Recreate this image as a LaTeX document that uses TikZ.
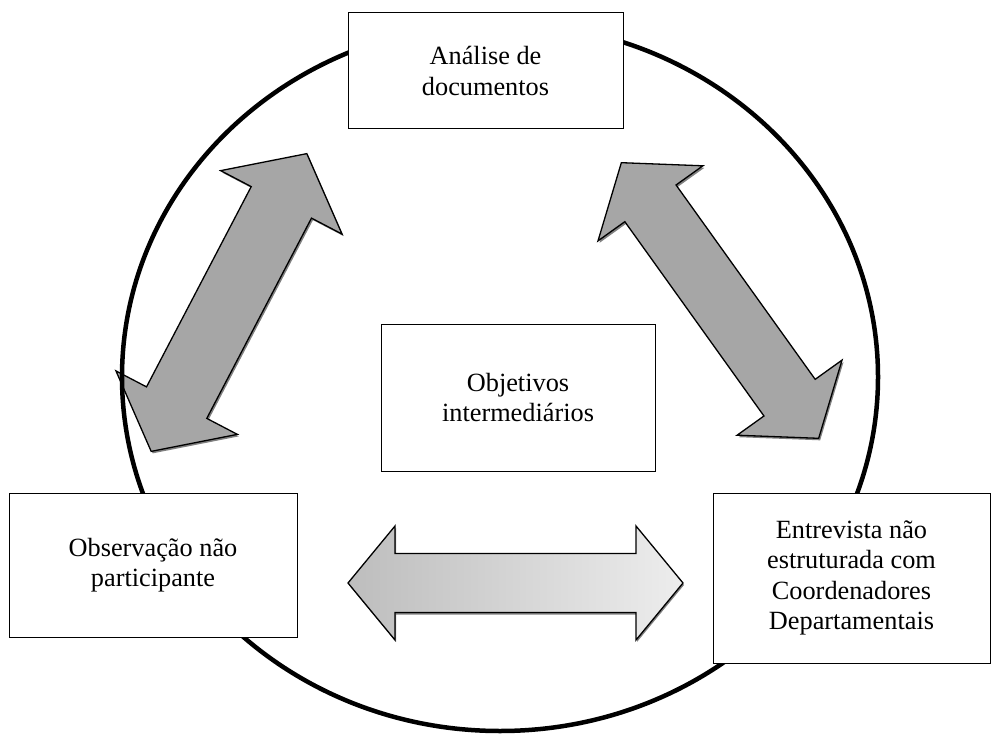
\documentclass[tikz,border=0pt]{standalone}
\usepackage{fontspec}
\setmainfont{Liberation Serif}
\definecolor{arrowgray}{HTML}{A6A6A6}
\definecolor{shadowgray}{HTML}{808080}
\definecolor{flatleft}{HTML}{BDBDBD}
\definecolor{flatright}{HTML}{EDEDED}
\begin{document}
\begin{tikzpicture}[x=1pt,y=-1pt,
  box/.style={draw=black, line width=1pt, fill=white, align=center,
    font=\fontsize{26.3}{30.5}\selectfont, inner sep=0pt},
  ring/.style={draw=black, line width=4.5pt},
  arrowbody/.style={draw=black, line width=1.3pt, fill=arrowgray, line join=miter},
  arrowshadow/.style={fill=shadowgray},
  flatarrow/.style={draw=black, line width=1.3pt, left color=flatleft, right color=flatright, line join=miter},
  pics/dblarrow/.style n args={5}{code={
    \path[#5] (-#1,0) -- (-#1+#2,-#3) -- (-#1+#2,-#4) -- (#1-#2,-#4) -- (#1-#2,-#3)
      -- (#1,0) -- (#1-#2,#3) -- (#1-#2,#4) -- (-#1+#2,#4) -- (-#1+#2,#3) -- cycle;
  }}
]
\useasboundingbox (0,0) rectangle (992,735);

% block arrows
\pic[rotate=62.4] at (230.5,304.5) {dblarrow={168}{55}{68.5}{34}{arrowshadow}};
\pic[rotate=62.4] at (229,302.5) {dblarrow={168}{55}{68.5}{34}{arrowbody}};
\pic[rotate=-54.4] at (721.5,302.5) {dblarrow={169.5}{50}{64.5}{31.5}{arrowshadow}};
\pic[rotate=-54.4] at (720,300.5) {dblarrow={169.5}{50}{64.5}{31.5}{arrowbody}};
\pic at (516.5,585) {dblarrow={167.5}{47}{57}{29.5}{arrowshadow}};
\pic at (515.5,583) {dblarrow={167.5}{47}{57}{29.5}{flatarrow}};

% ring
\draw[ring] (500,377) ellipse [x radius=378pt, y radius=354pt];

% boxes
\node[box, minimum width=275pt, minimum height=116pt] (doc) at (485.5,71) {Análise de\\documentos};
\node[box, minimum width=274pt, minimum height=147pt] (obj) at (518,397.5) {Objetivos\\intermediários};
\node[box, minimum width=288pt, minimum height=144pt] (obs) at (153,565) {Observação não\\participante};
\node[box, minimum width=277pt, minimum height=170pt] (ent) at (851.5,578) {Entrevista não\\estruturada com\\Coordenadores\\Departamentais};
\end{tikzpicture}
\end{document}
